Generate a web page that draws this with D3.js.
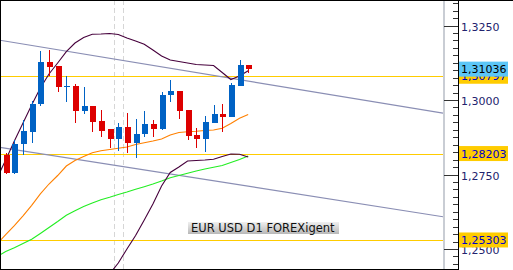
<!DOCTYPE html>
<html>
<head>
<meta charset="utf-8">
<script src="https://cdn.jsdelivr.net/npm/d3@7"></script>
<style>
    body { margin: 0; background: white; }
    svg { display: block; }
</style>
</head>
<body>
<div id="chart-area"></div>
<script>
// EUR/USD daily candles, oldest first
const opens = [1.28154, 1.27550, 1.28523, 1.28926, 1.29866, 1.31275, 1.31141, 1.30446, 1.30480, 1.29641,
    1.29799, 1.29305, 1.29027, 1.28701, 1.29094, 1.28547, 1.28859, 1.29194, 1.29027, 1.30168,
    1.30302, 1.29664, 1.28825, 1.28701, 1.29238, 1.29530, 1.29429, 1.30470, 1.31175]
const highs = [1.28221, 1.28658, 1.29329, 1.29966, 1.31644, 1.31678, 1.31141, 1.30815, 1.30547, 1.30436,
    1.29799, 1.29664, 1.29027, 1.29228, 1.29564, 1.29362, 1.29641, 1.29329, 1.30279, 1.30671,
    1.30302, 1.29664, 1.29060, 1.29473, 1.29832, 1.29866, 1.30581, 1.31342, 1.31175]
const lows = [1.27517, 1.27530, 1.28154, 1.28557, 1.29799, 1.30805, 1.30279, 1.29933, 1.29228, 1.29540,
    1.28926, 1.28768, 1.28389, 1.28299, 1.28221, 1.28054, 1.28768, 1.28768, 1.28993, 1.29943,
    1.29362, 1.28658, 1.28389, 1.28265, 1.29238, 1.28926, 1.29429, 1.30470, 1.30896]
const closes = [1.27550, 1.28523, 1.28960, 1.29866, 1.31275, 1.31118, 1.30446, 1.30480, 1.29641, 1.29799,
    1.29272, 1.28970, 1.28701, 1.29094, 1.28557, 1.28859, 1.29194, 1.29037, 1.30168, 1.30302,
    1.29641, 1.28802, 1.28701, 1.29272, 1.29530, 1.29440, 1.30503, 1.31175, 1.31036]

// indicators, first value belongs to bar -1 (just off the left edge)
const indicatorStart = -1
const maFast = [1.25167, 1.25486, 1.25788, 1.26114, 1.26466, 1.26852, 1.27181, 1.27466, 1.27785, 1.27970,
    1.28104, 1.28228, 1.28295, 1.28339, 1.28379, 1.28423, 1.28507, 1.28564, 1.28624, 1.28691,
    1.28825, 1.28909, 1.28933, 1.28950, 1.28976, 1.28993, 1.29050, 1.29211, 1.29386, 1.29513]
const maSlow = [1.24748, 1.24916, 1.25040, 1.25184, 1.25328, 1.25520, 1.25721, 1.25922, 1.26134, 1.26282,
    1.26426, 1.26543, 1.26654, 1.26738, 1.26829, 1.26912, 1.27003, 1.27090, 1.27181, 1.27282,
    1.27392, 1.27466, 1.27540, 1.27617, 1.27684, 1.27741, 1.27802, 1.27902, 1.28003, 1.28121]
const bandUpper = [1.27382, 1.27986, 1.28624, 1.29228, 1.29832, 1.30403, 1.30873, 1.31242, 1.31621, 1.31913,
    1.32098, 1.32208, 1.32215, 1.32232, 1.32198, 1.32081, 1.31980, 1.31873, 1.31678, 1.31477,
    1.31342, 1.31292, 1.31242, 1.31191, 1.31175, 1.31158, 1.30923, 1.30688, 1.30805, 1.30983]
// lower band only shows up from bar 12
const bandLowerStart = 12
const bandLower = [1.24161, 1.24530, 1.25000, 1.25453, 1.25973, 1.26510, 1.27114, 1.27567, 1.27751, 1.27953,
    1.27970, 1.27986, 1.28010, 1.28104, 1.28188, 1.28181, 1.28087]

// horizontal levels and bid
const levels = [1.30797, 1.28203, 1.25303]
const bidPrice = 1.31036

// channel lines as [bar, price] anchors
const channelUpper = [[0, 1.31973], [50, 1.29580]]
const channelLower = [[0, 1.28382], [50, 1.26104]]

// vertical dashed markers (bar positions)
const separators = [12.5, 13.5]

const priceTicks = [1.25, 1.275, 1.3, 1.325]
const chartLabel = "EUR USD D1 FOREXigent"

const W = 513, H = 270
const plotW = 443, plotH = 269
const axisX = 458

const svg = d3.select("#chart-area").append("svg")
    .attr("width", W)
    .attr("height", H)
    .attr("style", "background: white")

const x = d3.scaleLinear()
    .domain([0, 28])
    .range([5.7, 5.7 + 28 * 8.66])

const y = d3.scaleLinear()
    .domain([1.25, 1.325])
    .range([249, 25.5])

svg.append("clipPath")
    .attr("id", "plot-clip")
    .append("rect")
    .attr("x", 0)
    .attr("y", 1)
    .attr("width", plotW)
    .attr("height", plotH - 1)

const plot = svg.append("g").attr("clip-path", "url(#plot-clip)")

// dashed vertical markers
plot.selectAll(".sep").data(separators).join("line")
    .attr("class", "sep")
    .attr("x1", d => Math.round(x(d)) + 0.5)
    .attr("x2", d => Math.round(x(d)) + 0.5)
    .attr("y1", 0)
    .attr("y2", plotH)
    .attr("stroke", "#d6d6d6")
    .attr("stroke-dasharray", "5,3")

// yellow levels
plot.selectAll(".level").data(levels).join("line")
    .attr("class", "level")
    .attr("x1", 0)
    .attr("x2", plotW)
    .attr("y1", d => Math.round(y(d)) + 0.5)
    .attr("y2", d => Math.round(y(d)) + 0.5)
    .attr("stroke", "#ffcc00")
    .attr("stroke-width", 1.2)

// channel lines, extended across the plot
const extend = pts => {
    const [[b0, p0], [b1, p1]] = pts
    const slope = (p1 - p0) / (b1 - b0)
    const bl = x.invert(0), br = x.invert(plotW)
    return [[bl, p0 + (bl - b0) * slope], [br, p0 + (br - b0) * slope]]
}

const line = d3.line()
    .x(d => x(d[0]))
    .y(d => y(d[1]))

plot.selectAll(".channel").data([channelUpper, channelLower]).join("path")
    .attr("class", "channel")
    .attr("d", d => line(extend(d)))
    .attr("fill", "none")
    .attr("stroke", "#8a8eb4")
    .attr("stroke-width", 1.2)

// indicator lines
const series = (values, start) => values.map((v, k) => [start + k, v])

const indicators = [
    {values: series(maSlow, indicatorStart), color: "#22ee22"},
    {values: series(maFast, indicatorStart), color: "#ff8000"},
    {values: series(bandUpper, indicatorStart), color: "#46003c"},
    {values: series(bandLower, bandLowerStart), color: "#46003c"}
]

plot.selectAll(".ind").data(indicators).join("path")
    .attr("class", "ind")
    .attr("d", d => line(d.values))
    .attr("fill", "none")
    .attr("stroke", d => d.color)
    .attr("stroke-width", 1.1)

// candles
const candles = opens.map((o, i) => ({i, o, h: highs[i], l: lows[i], c: closes[i]}))
const upColor = "#0062c4", downColor = "#dd0000"

plot.selectAll(".wick").data(candles).join("line")
    .attr("class", "wick")
    .attr("x1", d => Math.round(x(d.i)) + 0.5)
    .attr("x2", d => Math.round(x(d.i)) + 0.5)
    .attr("y1", d => y(d.h))
    .attr("y2", d => y(d.l))
    .attr("stroke", d => d.c >= d.o ? upColor : downColor)
    .attr("shape-rendering", "crispEdges")

plot.selectAll(".body").data(candles).join("rect")
    .attr("class", "body")
    .attr("x", d => Math.round(x(d.i)) - 2)
    .attr("width", 6)
    .attr("y", d => y(Math.max(d.o, d.c)))
    .attr("height", d => Math.max(1, Math.abs(y(d.o) - y(d.c))))
    .attr("fill", d => d.c >= d.o ? upColor : downColor)
    .attr("shape-rendering", "crispEdges")

// chart label
const defs = svg.append("defs")
const grad = defs.append("linearGradient")
    .attr("id", "label-grad")
    .attr("x1", 0).attr("x2", 0).attr("y1", 0).attr("y2", 1)
grad.append("stop").attr("offset", "0%").attr("stop-color", "#f0f0f0")
grad.append("stop").attr("offset", "100%").attr("stop-color", "#b8b8b8")

svg.append("rect")
    .attr("x", 188)
    .attr("y", 222)
    .attr("width", 151)
    .attr("height", 12)
    .attr("fill", "url(#label-grad)")

svg.append("text")
    .attr("x", 191)
    .attr("y", 232)
    .attr("font-family", "DejaVu Sans, Verdana, sans-serif")
    .attr("font-size", "11.5px")
    .attr("fill", "#111")
    .text(chartLabel)

// price scale separator band
svg.append("rect")
    .attr("x", plotW)
    .attr("y", 0)
    .attr("width", 2)
    .attr("height", H)
    .attr("fill", "#c9cdd4")

// minor ticks
const minorAxis = d3.axisRight(y)
    .tickValues(d3.range(1.2425, 1.335, 0.0025))
    .tickSizeInner(-5)
    .tickSizeOuter(0)
    .tickFormat("")

svg.append("g")
    .attr("class", "minor axis")
    .attr("transform", `translate(${axisX}, 0)`)
    .call(minorAxis)
    .call(g => g.select(".domain").remove())
    .call(g => g.selectAll("line").attr("stroke", "#333").attr("shape-rendering", "crispEdges"))

// major ticks + labels
const majorAxis = d3.axisRight(y)
    .tickValues(priceTicks)
    .tickSizeInner(-14)
    .tickSizeOuter(0)
    .tickPadding(3)
    .tickFormat(d => d3.format(".4f")(d).replace(".", ","))

svg.append("g")
    .attr("class", "major axis")
    .attr("transform", `translate(${axisX}, 0)`)
    .call(majorAxis)
    .call(g => g.select(".domain").remove())
    .call(g => g.selectAll("line").attr("stroke", "#333").attr("shape-rendering", "crispEdges"))
    .call(g => g.selectAll("text")
        .attr("font-family", "DejaVu Sans, Verdana, sans-serif")
        .attr("font-size", "11px")
        .attr("fill", "#22226e")
        .attr("dy", "0.42em"))

// price tags on the scale
const tags = levels.map(p => ({p, fill: "#ffcc00", text: "#0000c8"}))
tags.push({p: bidPrice, fill: "#5cc6f7", text: "#000"})

const tag = svg.selectAll(".tag").data(tags).join("g")
    .attr("class", "tag")
    .attr("transform", d => `translate(${axisX}, ${y(d.p)})`)

tag.append("rect")
    .attr("x", 0)
    .attr("y", -7.5)
    .attr("width", 50)
    .attr("height", 15)
    .attr("fill", d => d.fill)

tag.append("text")
    .attr("x", 3)
    .attr("dy", "0.38em")
    .attr("font-family", "DejaVu Sans, Verdana, sans-serif")
    .attr("font-size", "11px")
    .attr("fill", d => d.text)
    .text(d => d3.format(".5f")(d.p).replace(".", ","))

// frame
svg.append("line")
    .attr("x1", axisX + 0.5).attr("x2", axisX + 0.5)
    .attr("y1", 0).attr("y2", H)
    .attr("stroke", "#000")
svg.append("line")
    .attr("x1", 0).attr("x2", W)
    .attr("y1", 0.5).attr("y2", 0.5)
    .attr("stroke", "#000")
svg.append("line")
    .attr("x1", 0.5).attr("x2", 0.5)
    .attr("y1", 0).attr("y2", H)
    .attr("stroke", "#000")
svg.append("line")
    .attr("x1", 0).attr("x2", axisX)
    .attr("y1", 269.5).attr("y2", 269.5)
    .attr("stroke", "#000")
</script>
</body>
</html>
